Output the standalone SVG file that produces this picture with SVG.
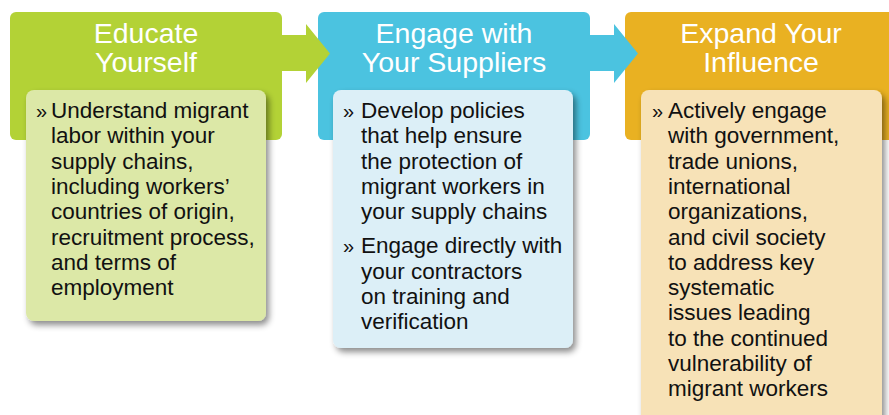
<svg xmlns="http://www.w3.org/2000/svg" width="889" height="415" viewBox="0 0 889 415">
<defs>
<filter id="sh" x="-10%" y="-10%" width="130%" height="130%">
<feDropShadow dx="3" dy="4" stdDeviation="3" flood-color="#000" flood-opacity="0.45"/>
</filter>
<style>
.hd{font-family:"Liberation Sans",Arial,sans-serif;font-size:28.5px;fill:#fff;text-anchor:middle}
.bd{font-family:"Liberation Sans",Arial,sans-serif;font-size:22.5px;fill:#111}
.bl{font-family:"Liberation Sans",Arial,sans-serif;font-size:20px;fill:#111}
</style>
</defs>
<rect width="889" height="415" fill="#fff"/>
<g id="educate">
<rect x="10" y="12" width="272" height="128" rx="6" fill="#B3D236"/>
<text class="hd" x="146" y="43">Educate</text>
<text class="hd" x="146" y="72">Yourself</text>
<rect x="26" y="90" width="240" height="231" rx="8" fill="#DCE8A7" filter="url(#sh)"/>
<text class="bl" x="36" y="118">»</text>
<text class="bd" x="51" y="118">Understand migrant</text>
<text class="bd" x="51" y="143.3">labor within your</text>
<text class="bd" x="51" y="168.6">supply chains,</text>
<text class="bd" x="51" y="193.9">including workers’</text>
<text class="bd" x="51" y="219.2">countries of origin,</text>
<text class="bd" x="51" y="244.5">recruitment process,</text>
<text class="bd" x="51" y="269.8">and terms of</text>
<text class="bd" x="51" y="295.1">employment</text>
</g>
<g id="engage">
<rect x="318" y="12" width="272" height="128" rx="6" fill="#4BC3E0"/>
<text class="hd" x="454" y="43">Engage with</text>
<text class="hd" x="454" y="72">Your Suppliers</text>
<rect x="333" y="90" width="240" height="258" rx="8" fill="#DCEFF7" filter="url(#sh)"/>
<text class="bl" x="343" y="118">»</text>
<text class="bd" x="361" y="118">Develop policies</text>
<text class="bd" x="361" y="143.3">that help ensure</text>
<text class="bd" x="361" y="168.6">the protection of</text>
<text class="bd" x="361" y="193.9">migrant workers in</text>
<text class="bd" x="361" y="219.2">your supply chains</text>
<text class="bl" x="343" y="253.3">»</text>
<text class="bd" x="361" y="253.3">Engage directly with</text>
<text class="bd" x="361" y="278.6">your contractors</text>
<text class="bd" x="361" y="303.9">on training and</text>
<text class="bd" x="361" y="329.2">verification</text>
</g>
<g id="expand">
<rect x="625" y="12" width="272" height="128" rx="6" fill="#E9B122"/>
<text class="hd" x="761" y="43">Expand Your</text>
<text class="hd" x="761" y="72">Influence</text>
<rect x="641" y="90" width="241" height="340" rx="8" fill="#F7E2B7" filter="url(#sh)"/>
<text class="bl" x="652" y="118">»</text>
<text class="bd" x="668" y="118">Actively engage</text>
<text class="bd" x="668" y="143.3">with government,</text>
<text class="bd" x="668" y="168.6">trade unions,</text>
<text class="bd" x="668" y="193.9">international</text>
<text class="bd" x="668" y="219.2">organizations,</text>
<text class="bd" x="668" y="244.5">and civil society</text>
<text class="bd" x="668" y="269.8">to address key</text>
<text class="bd" x="668" y="295.1">systematic</text>
<text class="bd" x="668" y="320.4">issues leading</text>
<text class="bd" x="668" y="345.7">to the continued</text>
<text class="bd" x="668" y="371">vulnerability of</text>
<text class="bd" x="668" y="396.3">migrant workers</text>
</g>
<g id="connectors">
<polygon points="281,35 306,35 306,24 330,53.5 306,83 306,71 281,71" fill="#B3D236"/>
<polygon points="589,35 614,35 614,24 638,53.5 614,83 614,71 589,71" fill="#4BC3E0"/>
</g>
</svg>
